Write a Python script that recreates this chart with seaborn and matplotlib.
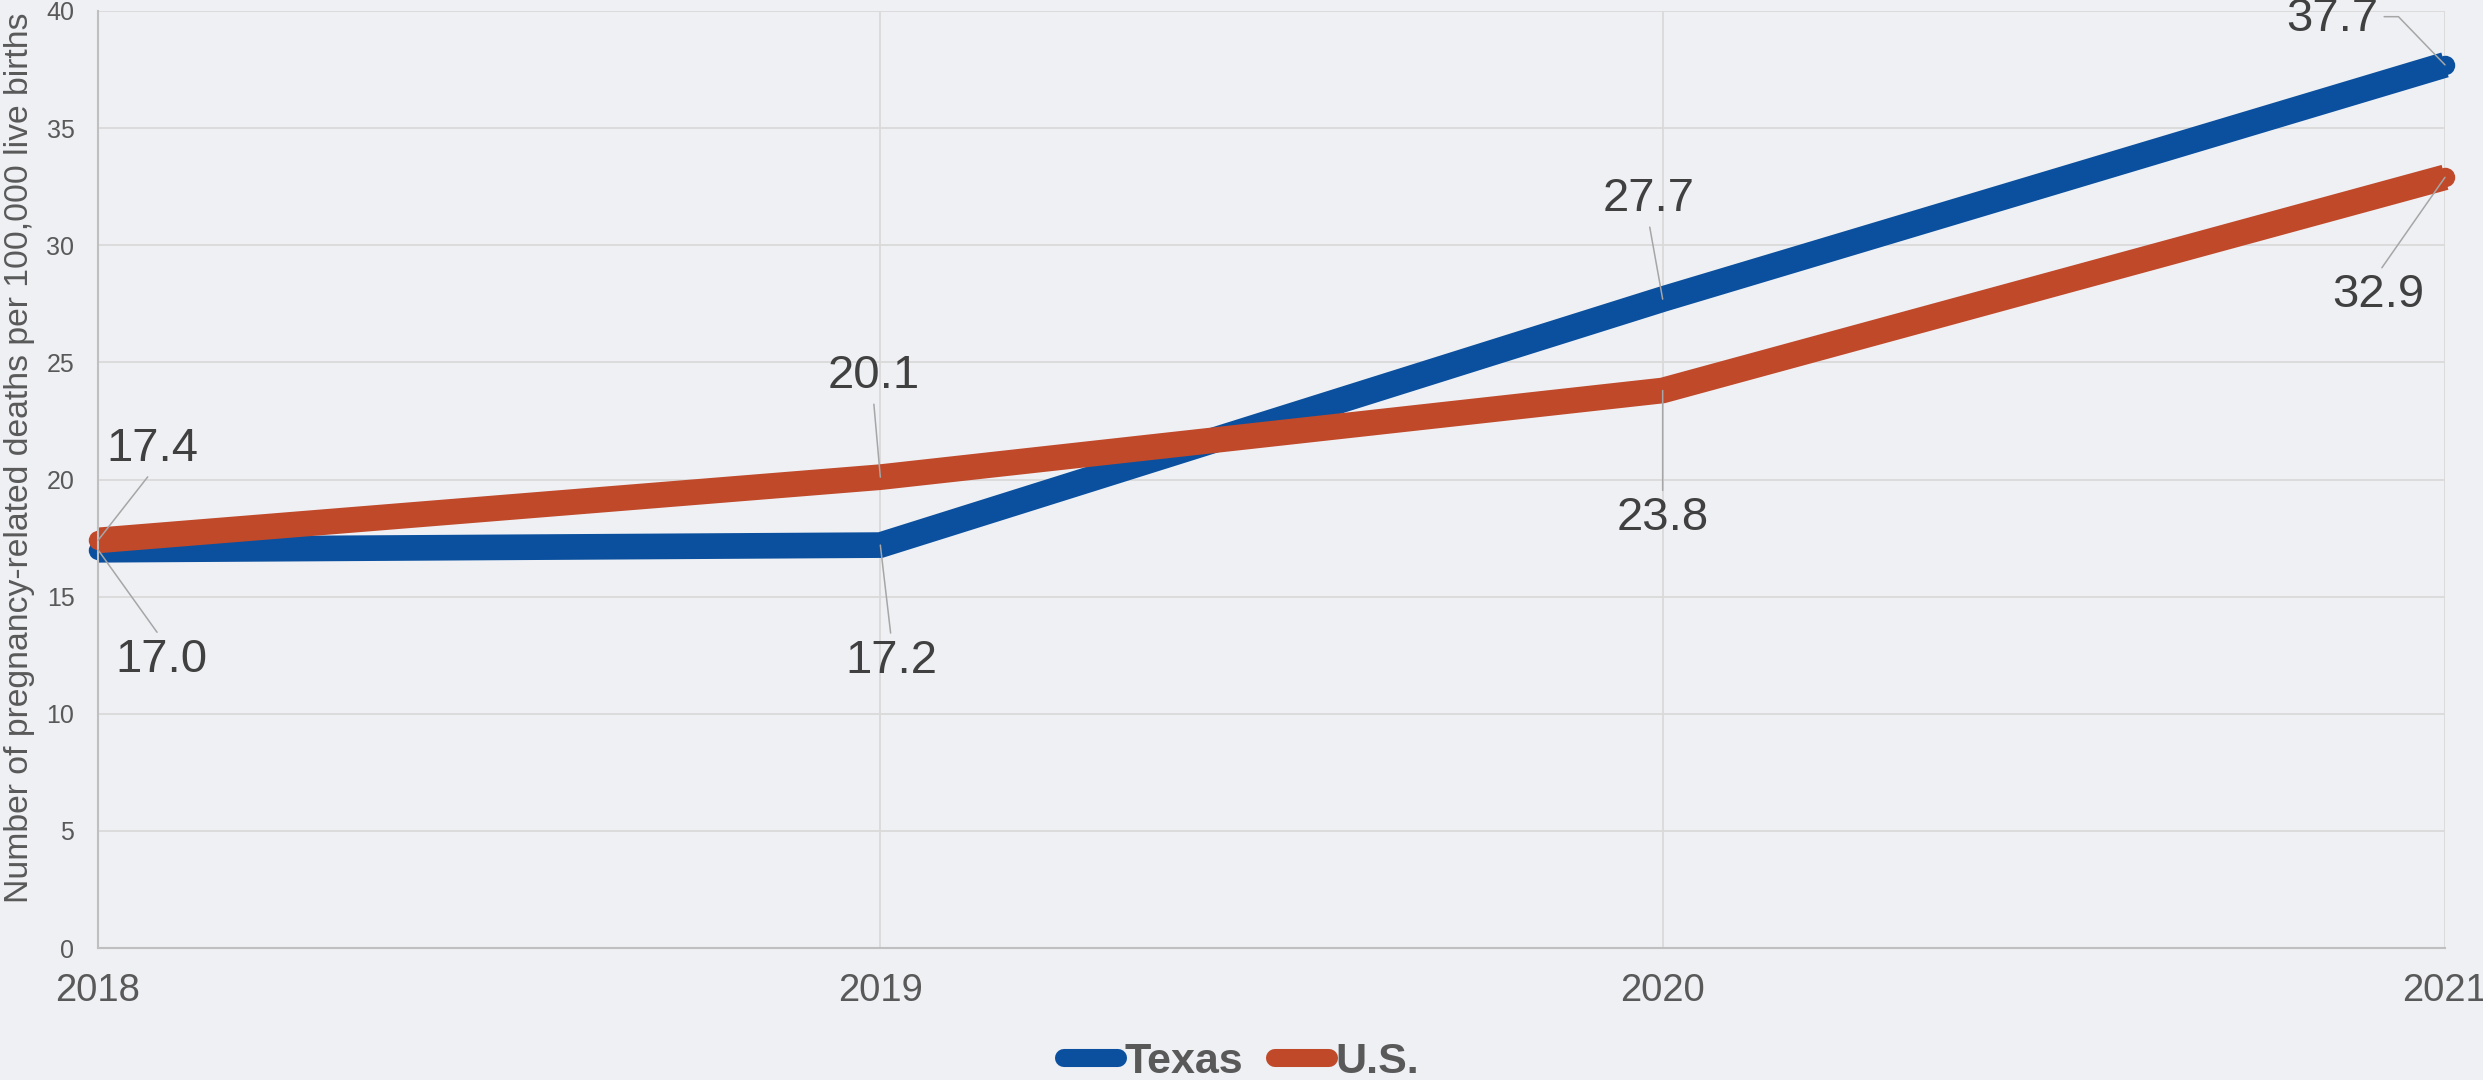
import numpy as np
import pandas as pd
import matplotlib
matplotlib.use("Agg")
import matplotlib.pyplot as plt
import seaborn as sns

# ---- data ----
years = [2018, 2019, 2020, 2021]
texas = [17.0, 17.2, 27.7, 37.7]
us = [17.4, 20.1, 23.8, 32.9]
series_names = ["Texas", "U.S."]
y_ticks = [0, 5, 10, 15, 20, 25, 30, 35, 40]
y_label = "Number of pregnancy-related deaths per 100,000 live births"

# label offsets in pixels (dx, dy), y up
texas_offsets = [(63, -110), (11, -116), (-14, 100), (-113, 46)]
us_offsets = [(54, 91), (-7, 101), (0, -128), (-67, -118)]

BG = "#EEF0F4"
BLUE = "#0A509E"
RED = "#C0492A"
GRID = "#D9D9D9"
TXT = "#595959"
LBL = "#404040"
LEAD = "#A6A6A6"

sns.set_theme(style="whitegrid")
plt.rcParams["font.family"] = ["Liberation Sans", "DejaVu Sans"]

df = pd.DataFrame({
    "Year": years * 2,
    "Value": texas + us,
    "Series": [series_names[0]] * len(years) + [series_names[1]] * len(years),
})

W, H, DPI = 2483, 1080, 100
fig = plt.figure(figsize=(W / DPI, H / DPI), dpi=DPI, facecolor=BG)
ax = fig.add_axes([98 / W, 1 - 948 / H, (2445 - 98) / W, (948 - 11) / H])
ax.set_facecolor(BG)

sns.lineplot(data=df, x="Year", y="Value", hue="Series",
             palette={"Texas": BLUE, "U.S.": RED},
             linewidth=18.5, marker="o", markersize=14, markeredgewidth=0,
             solid_capstyle="butt", solid_joinstyle="miter", ax=ax, legend=True)
for ln in ax.lines:
    ln.set_clip_on(False)

ax.set_xlim(2018, 2021)
ax.set_ylim(0, 40)
ax.set_xticks(years)
ax.set_xticklabels([str(y) for y in years])
ax.set_yticks(y_ticks)
ax.set_xlabel("")
ax.set_ylabel("")
ax.grid(True, color=GRID, linewidth=1.3)
ax.set_axisbelow(True)
for s in ["top", "right"]:
    ax.spines[s].set_visible(False)
for s in ["left", "bottom"]:
    ax.spines[s].set_visible(True)
    ax.spines[s].set_color("#BFBFBF")
    ax.spines[s].set_linewidth(1.5)
ax.tick_params(axis="x", length=0, pad=18, labelsize=27.5, labelcolor=TXT)
ax.tick_params(axis="y", length=0, pad=17, labelsize=18, labelcolor=TXT)

fig.text(20 / W, 1 - 458 / H, y_label, rotation=90, ha="center", va="center",
         fontsize=24.3, color=TXT)

# data labels with leader lines
def add_labels(vals, offsets):
    for yr, v, (dx, dy) in zip(years, vals, offsets):
        conn = "arc3"
        relpos = (0.5, 0.0) if dy > 0 else (0.5, 1.0)
        if yr == 2021 and dy > 0:
            conn = "angle,angleA=0,angleB=134,rad=0"
            relpos = (1.0, 0.55)
        ax.annotate(f"{v:.1f}", xy=(yr, v), xytext=(dx, dy),
                    textcoords="offset pixels", ha="center", va="center",
                    fontsize=34, color=LBL, annotation_clip=False,
                    arrowprops=dict(arrowstyle="-", color=LEAD, lw=1.1,
                                    shrinkA=2, shrinkB=0, relpos=relpos,
                                    connectionstyle=conn),
                    zorder=5)

add_labels(texas, texas_offsets)
add_labels(us, us_offsets)

handles, labels = ax.get_legend_handles_labels()
if ax.get_legend() is not None:
    ax.get_legend().remove()
leg = fig.legend(handles, labels, loc="center", bbox_to_anchor=(0.5, (H - 1062) / H),
                 ncol=2, frameon=False, handlelength=1.25, handletextpad=0.15,
                 columnspacing=0.75, borderpad=0, borderaxespad=0,
                 prop={"weight": "bold", "size": 31})
for t in leg.get_texts():
    t.set_color(TXT)
for h in leg.legend_handles:
    h.set_linewidth(13)
    h.set_solid_capstyle("round")
    h.set_marker("")

fig.savefig("out.png", dpi=DPI, facecolor=BG)
